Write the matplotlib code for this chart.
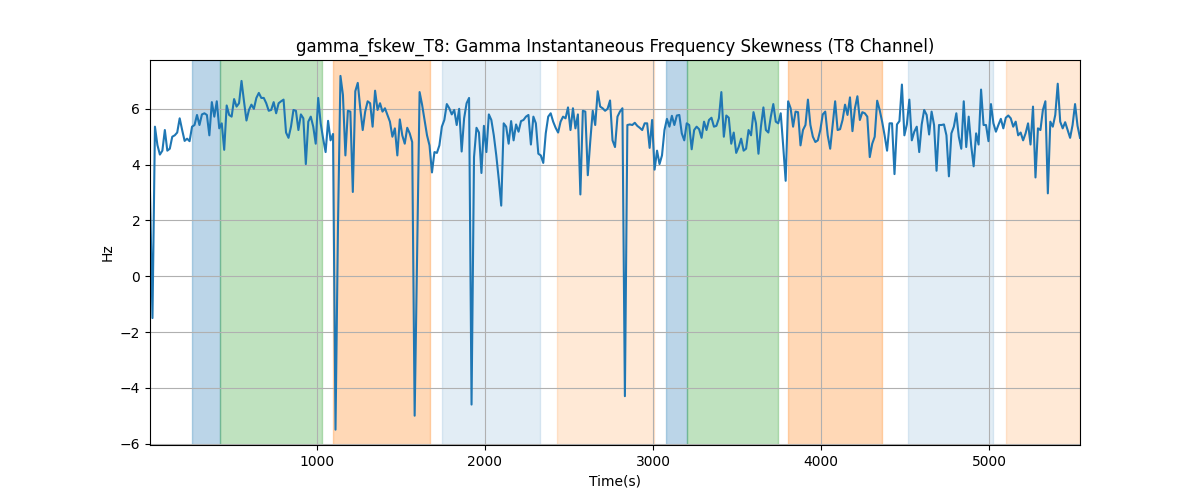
import numpy as np
import matplotlib
matplotlib.use("Agg")
import matplotlib.pyplot as plt

title = "gamma_fskew_T8: Gamma Instantaneous Frequency Skewness (T8 Channel)"
t_start, t_end = 6, 5542

values = [
    # segment A
    3.0, -1.5, 5.36, 4.7, 4.36, 4.5, 5.24, 4.5, 4.57, 5.0, 5.05, 5.15, 5.66, 5.24, 4.85, 4.93, 4.84, 5.36,
    5.42, 5.78, 5.42, 5.8, 5.84, 5.78, 5.05, 6.24, 5.72, 6.27, 5.3, 5.48, 4.53, 6.12, 5.78, 5.72, 6.35, 6.08,
    6.2, 7.0, 6.27, 5.58, 5.96, 6.15, 6.0, 6.39, 6.57, 6.39, 6.39, 6.2, 5.93, 5.96, 6.24, 5.84, 6.2,
    # segment B
    6.27, 6.33, 5.15, 4.96, 5.36, 5.96, 5.93, 5.24, 5.8, 5.66, 4.02, 5.54, 5.72, 5.36, 4.75, 6.39, 5.48,
    4.93, 4.45, 5.57, 4.87, 5.1, -5.5, 1.8, 7.18, 6.5, 4.33, 5.93, 5.9, 3.02, 6.63, 6.93, 6.02, 5.24, 5.9, 6.27,
    6.2, 5.36, 6.65, 5.96, 6.2, 5.9, 6.02, 5.78, 5.54, 5.0, 5.3, 4.33, 5.62, 5.05, 4.75, 5.32, 5.12, 4.81, -5.0,
    # segment C
    0.8, 6.6, 6.15, 5.6, 5.05, 4.69, 3.72, 4.45, 4.42, 4.69, 5.36, 5.6, 6.17, 6.02, 5.8, 5.96, 5.42, 6.0,
    4.47, 5.66, 6.2, 6.39, -4.6, 4.27, 5.32, 5.15, 3.7, 5.39, 4.45, 5.8, 5.6, 5.05, 4.33, 3.48, 2.53, 5.48, 5.36,
    4.75, 5.56, 4.87, 5.44, 5.18, 5.56, 5.6, 5.72, 5.78, 4.72, 5.72, 5.48, 4.39, 4.33, 4.06, 5.12, 5.72,
    # segment D
    5.84, 5.54, 5.32, 5.15, 5.54, 5.72, 5.66, 6.05, 5.24, 6.02, 5.3, 5.8, 2.93, 5.93, 5.9, 3.62, 4.84, 5.93,
    5.42, 6.63, 6.08, 6.02, 5.93, 6.0, 6.3, 4.87, 4.63, 5.72, 5.9, 6.02, -4.3, 5.42, 5.44, 5.42, 5.5, 5.39,
    5.32, 5.24, 5.48, 5.48, 4.6, 5.6, 3.82, 4.5, 4.02, 4.33, 5.24, 5.64, 5.36, 5.75, 5.42, 5.76, 5.78, 5.12, 4.87,
    # segment E
    5.48, 5.42, 4.55, 5.24, 5.36, 5.27, 4.96, 5.54, 5.24, 5.6, 5.68, 5.36, 5.39, 5.66, 6.6, 5.0, 5.76, 5.68,
    4.75, 5.15, 4.42, 4.63, 4.93, 4.5, 4.57, 5.24, 5.05, 5.88, 5.48, 4.39, 5.36, 6.05, 5.24, 5.15, 5.72, 6.17,
    5.54, 5.48, 5.84, 4.67, 3.42, 6.27, 6.02, 5.36, 5.9, 5.88, 4.69, 5.24, 5.42, 6.33, 5.42, 5.0, 4.81, 4.87,
    # segment F
    5.24, 5.8, 5.9, 5.05, 4.57, 5.42, 6.27, 5.24, 5.27, 5.6, 6.15, 5.78, 6.41, 5.2, 6.02, 6.45, 5.6, 5.88,
    5.84, 5.72, 4.27, 4.75, 5.0, 6.29, 5.96, 5.54, 5.05, 4.5, 5.48, 5.48, 3.66, 5.44, 5.56, 6.87, 5.05, 5.44,
    6.33, 4.87, 5.18, 5.36, 4.45, 5.44, 5.96, 5.78, 5.08, 5.9, 5.42, 3.78, 5.42, 5.42, 5.44, 5.05, 3.58, 5.12,
    # segment G
    5.36, 5.84, 5.0, 4.57, 6.27, 4.63, 5.72, 4.69, 3.94, 5.12, 4.72, 6.69, 5.42, 5.42, 4.84, 6.17, 5.48, 5.18,
    5.42, 5.64, 5.3, 5.68, 5.76, 5.66, 5.36, 5.54, 5.05, 5.15, 4.87, 5.12, 5.48, 4.72, 6.08, 3.54, 5.3, 5.24,
    5.96, 6.27, 2.97, 5.54, 5.36, 5.78, 6.9, 5.54, 5.3, 5.52, 5.24, 4.96, 5.42, 6.17, 5.39, 4.96,
]

# shaded intervals
span_starts = [256, 423, 1093, 1744, 2430, 3077, 3200, 3801, 4520, 5101]
span_ends = [423, 1028, 1673, 2327, 3008, 3200, 3742, 4361, 5026, 5542]
span_colors = ["C0", "C2", "C1", "C0", "C1", "C0", "C2", "C1", "C0", "C1"]
span_alphas = [0.3, 0.3, 0.3, 0.13, 0.17, 0.3, 0.3, 0.3, 0.13, 0.17]

t = np.linspace(t_start, t_end, len(values))

fig, ax = plt.subplots(figsize=(12, 5), dpi=100)
for s, e, c, a in zip(span_starts, span_ends, span_colors, span_alphas):
    ax.axvspan(s, e, color=c, alpha=a, linewidth=1)
ax.plot(t, values, color="C0", linewidth=1.5)
ax.set_xlim(t_start, t_end)
ax.set_ylim(-6.05, 7.75)
ax.grid(True)
ax.set_title(title)
ax.set_xlabel("Time(s)")
ax.set_ylabel("Hz")
fig.savefig("out.png", dpi=100)
